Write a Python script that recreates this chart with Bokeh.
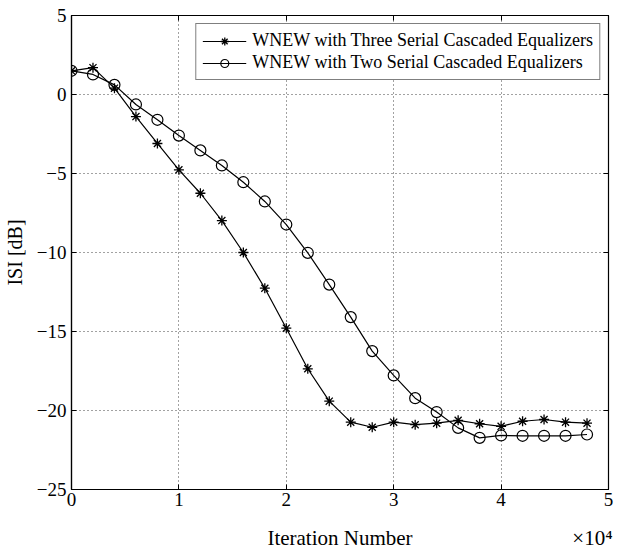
from bokeh.plotting import figure
from bokeh.models import Range1d, LinearAxis, Legend, LegendItem, FixedTicker
from bokeh.embed import file_html
from bokeh.resources import INLINE

iterations = [0, 2000, 4000, 6000, 8000, 10000, 12000, 14000, 16000, 18000, 20000,
              22000, 24000, 26000, 28000, 30000, 32000, 34000, 36000, 38000, 40000,
              42000, 44000, 46000, 48000]
isi_three = [1.5, 1.7, 0.4, -1.4, -3.1, -4.77, -6.25, -7.98, -10.0, -12.26, -14.79,
             -17.36, -19.41, -20.74, -21.06, -20.74, -20.9, -20.8, -20.62, -20.84, -21.0,
             -20.68, -20.57, -20.74, -20.8]
isi_two = [1.5, 1.27, 0.61, -0.63, -1.6, -2.6, -3.54, -4.49, -5.55, -6.77, -8.23,
           -10.02, -12.03, -14.09, -16.24, -17.78, -19.22, -20.1, -21.1, -21.73, -21.58,
           -21.6, -21.6, -21.6, -21.52]
label_three = "WNEW with Three Serial Cascaded Equalizers"
label_two = "WNEW with Two Serial Cascaded Equalizers"
x_ticks = [0, 10000, 20000, 30000, 40000, 50000]
x_tick_labels = ["0", "1", "2", "3", "4", "5"]
y_ticks = [-25, -20, -15, -10, -5, 0, 5]
x_title = "Iteration Number"
x_multiplier = "×10⁴"
y_title = "ISI [dB]"

FONT = "Liberation Serif"

p = figure(width=624, height=552, output_backend="svg", toolbar_location=None,
           x_range=Range1d(0, 50000), y_range=Range1d(-25, 5),
           min_border_left=71, min_border_right=16, min_border_top=15, min_border_bottom=63)
p.background_fill_color = "white"
p.border_fill_color = "white"
p.outline_line_color = "black"
p.outline_line_width = 1.2

for ax in (p.xaxis[0], p.yaxis[0]):
    ax.major_tick_in = 5
    ax.major_tick_out = 0
    ax.minor_tick_in = 0
    ax.minor_tick_out = 0
    ax.axis_line_color = "black"
    ax.axis_line_width = 1.2
    ax.major_tick_line_color = "black"
    ax.major_label_text_font = FONT
    ax.major_label_text_font_size = "19px"
    ax.major_label_text_color = "black"
    ax.axis_label_text_font = FONT
    ax.axis_label_text_font_style = "normal"
    ax.axis_label_text_color = "black"

p.xaxis[0].ticker = FixedTicker(ticks=x_ticks)
p.xaxis[0].major_label_overrides = dict(zip(x_ticks, x_tick_labels))
p.xaxis[0].major_label_standoff = 3
p.yaxis[0].ticker = FixedTicker(ticks=y_ticks)
p.yaxis[0].axis_label = y_title
p.yaxis[0].axis_label_text_font_size = "20px"
p.yaxis[0].major_label_standoff = 5
p.yaxis[0].axis_label_standoff = 8

# second row under the tick labels: axis title (centred) and the x10^4 multiplier
title_pos = [25000, 48500]
xtitle_axis = LinearAxis(ticker=FixedTicker(ticks=title_pos),
                         major_label_overrides={title_pos[0]: x_title, title_pos[1]: x_multiplier},
                         major_tick_in=0, major_tick_out=0, minor_tick_in=0, minor_tick_out=0,
                         axis_line_color=None, major_tick_line_color=None,
                         major_label_text_font=FONT, major_label_text_font_size="21px",
                         major_label_text_color="black", major_label_standoff=17)
p.add_layout(xtitle_axis, "below")

top = LinearAxis(ticker=FixedTicker(ticks=x_ticks), major_tick_in=5, major_tick_out=0,
                 minor_tick_in=0, minor_tick_out=0,
                 major_label_overrides={t: "" for t in x_ticks},
                 major_label_standoff=0, axis_line_color="black")
right = LinearAxis(ticker=FixedTicker(ticks=y_ticks), major_tick_in=5, major_tick_out=0,
                   minor_tick_in=0, minor_tick_out=0,
                   major_label_overrides={t: "" for t in y_ticks},
                   major_label_standoff=0, axis_line_color="black")
p.add_layout(top, "above")
p.add_layout(right, "right")

p.xgrid.ticker = FixedTicker(ticks=x_ticks)
p.ygrid.ticker = FixedTicker(ticks=y_ticks)
for g in (p.xgrid[0], p.ygrid[0]):
    g.grid_line_color = "#444444"
    g.grid_line_dash = "1 3"
    g.grid_line_width = 1

l1 = p.line(iterations, isi_three, line_color="black", line_width=1.2)
m1 = p.scatter(iterations, isi_three, marker="asterisk", size=10, line_color="black", line_width=1.3)
l2 = p.line(iterations, isi_two, line_color="black", line_width=1.2)
m2 = p.scatter(iterations, isi_two, marker="circle", size=11, line_color="black",
               fill_color=None, line_width=1.2)

legend = Legend(items=[LegendItem(label=label_three, renderers=[l1, m1]),
                       LegendItem(label=label_two, renderers=[l2, m2])],
                location="top_right")
legend.label_text_font = FONT
legend.label_text_font_size = "18px"
legend.label_text_color = "black"
legend.border_line_color = "black"
legend.border_line_width = 1.2
legend.background_fill_color = "white"
legend.background_fill_alpha = 1
legend.glyph_width = 44
legend.spacing = 1
legend.padding = 6
legend.margin = 8
legend.label_standoff = 6
p.add_layout(legend, "center")

open("out.html", "w").write(file_html(p, INLINE))
